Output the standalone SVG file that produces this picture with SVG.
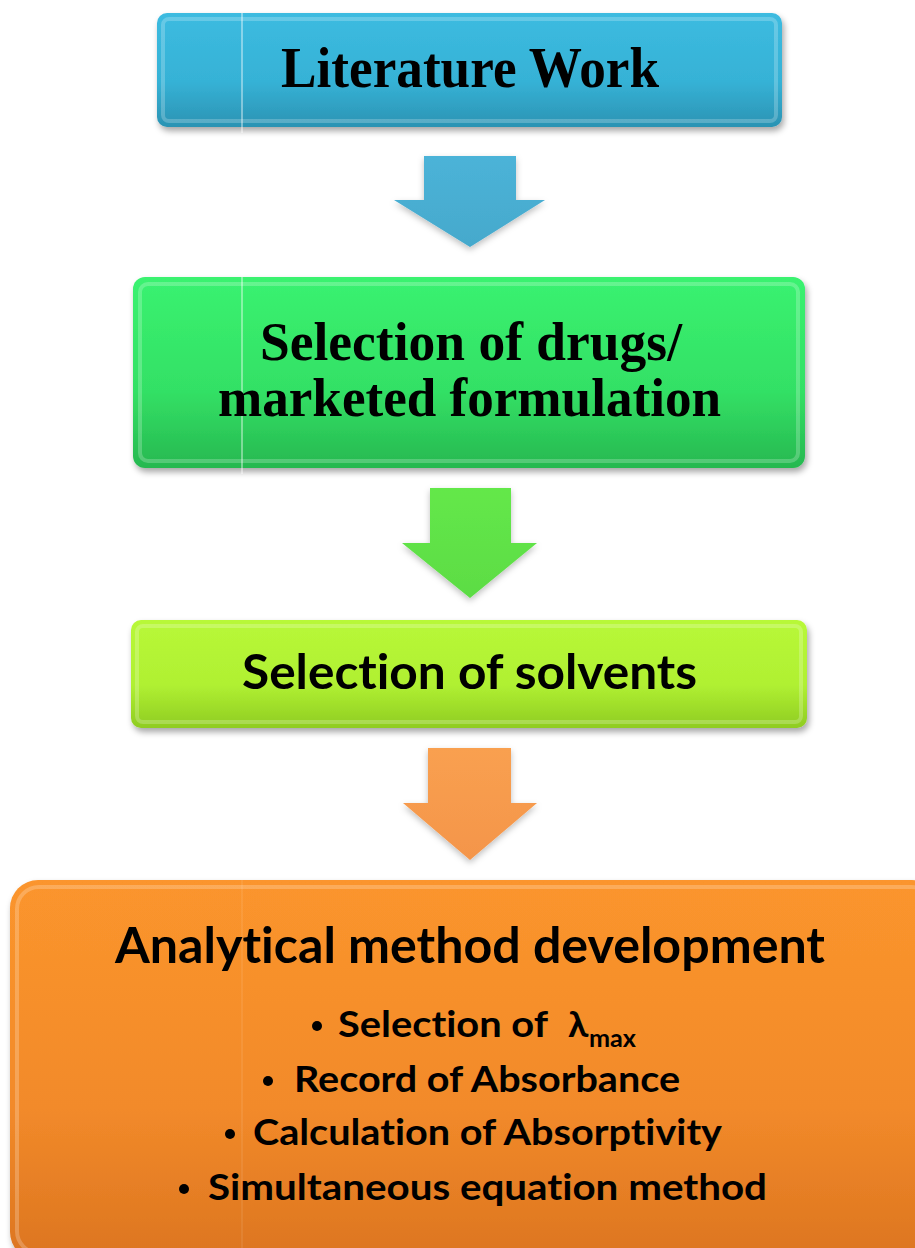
<svg xmlns="http://www.w3.org/2000/svg" width="915" height="1248" viewBox="0 0 915 1248">
<style>
.serif{font-family:"Liberation Serif","Times New Roman",serif;font-weight:bold;fill:#000}
.sans{font-family:Lato,"Open Sans","Liberation Sans",sans-serif;font-weight:bold;fill:#000;font-variant-ligatures:none;font-feature-settings:"liga" 0,"clig" 0,"dlig" 0}
.seam{stroke:#ffffff;stroke-width:1;opacity:0.8}
.bevel{fill:none;stroke:#ffffff;stroke-opacity:0.22;stroke-width:4}
</style>
<defs>
<filter id="sh" x="-5%" y="-10%" width="110%" height="130%">
<feDropShadow dx="2" dy="4" stdDeviation="3" flood-color="#000" flood-opacity="0.35"/>
</filter>
<filter id="ash" x="-20%" y="-20%" width="140%" height="140%">
<feDropShadow dx="0" dy="3" stdDeviation="3" flood-color="#000" flood-opacity="0.25"/>
</filter>
<linearGradient id="gBlue" x1="0" y1="0" x2="0" y2="1">
<stop offset="0" stop-color="#3cbbe0"/><stop offset="0.6" stop-color="#36b2d6"/><stop offset="1" stop-color="#2b93b3"/>
</linearGradient>
<linearGradient id="gGreen" x1="0" y1="0" x2="0" y2="1">
<stop offset="0" stop-color="#3af270"/><stop offset="0.6" stop-color="#33e065"/><stop offset="1" stop-color="#27b850"/>
</linearGradient>
<linearGradient id="gLime" x1="0" y1="0" x2="0" y2="1">
<stop offset="0" stop-color="#b8f838"/><stop offset="0.6" stop-color="#b0f032"/><stop offset="1" stop-color="#8fcc22"/>
</linearGradient>
<linearGradient id="gOrange" x1="0" y1="0" x2="0" y2="1">
<stop offset="0" stop-color="#fb952d"/><stop offset="0.6" stop-color="#f28a2a"/><stop offset="1" stop-color="#dc7520"/>
</linearGradient>
<linearGradient id="aBlue" x1="0" y1="0" x2="0" y2="1">
<stop offset="0" stop-color="#4cb3d8"/><stop offset="1" stop-color="#45a9cc"/>
</linearGradient>
<linearGradient id="aGreen" x1="0" y1="0" x2="0" y2="1">
<stop offset="0" stop-color="#64e84a"/><stop offset="1" stop-color="#5cdc44"/>
</linearGradient>
<linearGradient id="aOrange" x1="0" y1="0" x2="0" y2="1">
<stop offset="0" stop-color="#f9a050"/><stop offset="1" stop-color="#f4954a"/>
</linearGradient>
</defs>

<g id="connectors" filter="url(#ash)">
<polygon points="424,156 516,156 516,200 545,200 470,247 394,200 424,200" fill="url(#aBlue)"/>
<polygon points="430,488 511,488 511,543 537,543 470,598 402,543 430,543" fill="url(#aGreen)"/>
<polygon points="428,748 511,748 511,803 537,803 470,860 403,803 428,803" fill="url(#aOrange)"/>
</g>

<g id="node-literature">
<rect x="157" y="13" width="625" height="114" rx="10" fill="url(#gBlue)" filter="url(#sh)"/>
<rect x="163" y="19" width="613" height="102" rx="6" class="bevel"/>
<line x1="242" y1="13" x2="242" y2="133" class="seam"/>
<text x="281" y="87" class="serif" font-size="56" textLength="378" lengthAdjust="spacingAndGlyphs">Literature Work</text>
</g>

<g id="node-drugs">
<rect x="133" y="277" width="672" height="191" rx="12" fill="url(#gGreen)" filter="url(#sh)"/>
<rect x="140" y="284" width="658" height="177" rx="8" class="bevel"/>
<line x1="242" y1="277" x2="242" y2="474" class="seam"/>
<text x="260" y="360" class="serif" font-size="54" textLength="422" lengthAdjust="spacingAndGlyphs">Selection of drugs/</text>
<text x="218" y="416" class="serif" font-size="54" textLength="503" lengthAdjust="spacingAndGlyphs">marketed formulation</text>
</g>

<g id="node-solvents">
<rect x="131" y="620" width="676" height="108" rx="10" fill="url(#gLime)" filter="url(#sh)"/>
<rect x="137" y="626" width="664" height="96" rx="6" class="bevel"/>
<text x="242" y="689" class="sans" font-size="47" textLength="455" lengthAdjust="spacingAndGlyphs">Selection of solvents</text>
</g>

<g id="node-analytical">
<rect x="10" y="880" width="930" height="380" rx="28" fill="url(#gOrange)" filter="url(#sh)"/>
<rect x="17" y="887" width="916" height="366" rx="22" class="bevel"/>
<line x1="242" y1="880" x2="242" y2="1248" stroke="#ffffff" stroke-width="1" opacity="0.15"/>
<text x="115" y="963" class="sans" font-size="49" textLength="710" lengthAdjust="spacingAndGlyphs">Analytical method development</text>
<circle cx="317" cy="1026" r="5" fill="#000"/>
<text x="338" y="1037" class="sans" font-size="37" textLength="210" lengthAdjust="spacingAndGlyphs">Selection of</text>
<text x="568" y="1037" class="sans" font-size="37">λ</text>
<text x="589" y="1047" class="sans" font-size="24" textLength="47" lengthAdjust="spacingAndGlyphs">max</text>
<circle cx="268" cy="1081" r="5" fill="#000"/>
<text x="294" y="1092" class="sans" font-size="37" textLength="386" lengthAdjust="spacingAndGlyphs">Record of Absorbance</text>
<circle cx="230" cy="1134" r="5" fill="#000"/>
<text x="253" y="1145" class="sans" font-size="37" textLength="469" lengthAdjust="spacingAndGlyphs">Calculation of Absorptivity</text>
<circle cx="184" cy="1189" r="5" fill="#000"/>
<text x="208" y="1200" class="sans" font-size="37" textLength="559" lengthAdjust="spacingAndGlyphs">Simultaneous equation method</text>
</g>
</svg>
